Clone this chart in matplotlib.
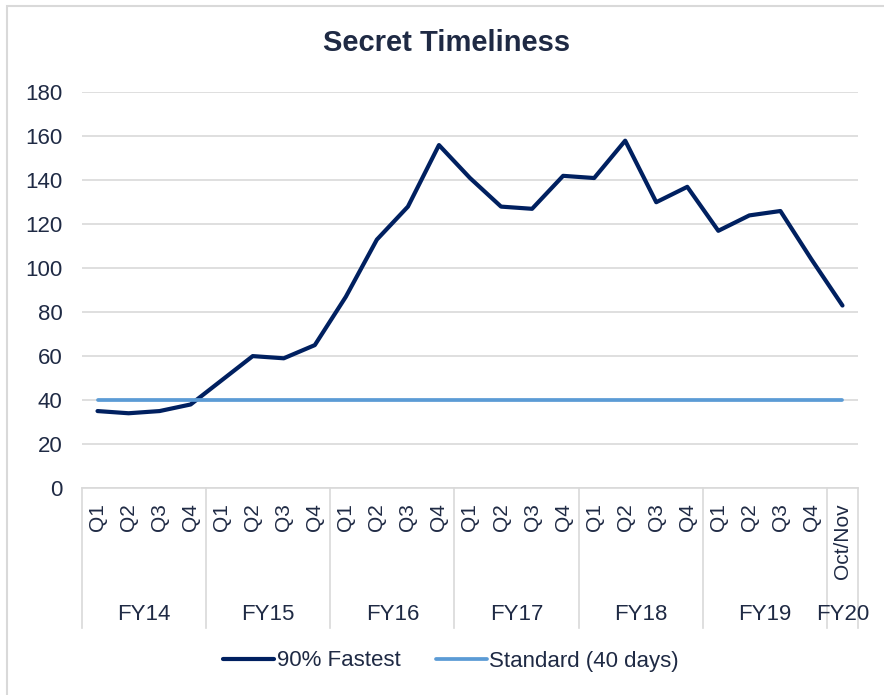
import numpy as np
import matplotlib.pyplot as plt
from matplotlib.patches import Rectangle
import matplotlib.transforms as mtransforms

plt.rcParams['font.family'] = ['Liberation Sans', 'DejaVu Sans']

# data
quarters = ['Q1', 'Q2', 'Q3', 'Q4'] * 6 + ['Oct/Nov']
years = ['FY14', 'FY15', 'FY16', 'FY17', 'FY18', 'FY19', 'FY20']
year_sizes = [4, 4, 4, 4, 4, 4, 1]
fastest_90 = [35, 34, 35, 38,
              49, 60, 59, 65,
              87, 113, 128, 156,
              141, 128, 127, 142,
              141, 158, 130, 137,
              117, 124, 126, 104,
              83]
standard = [40] * 25

text_col = '#1F2A44'
grid_col = '#D9D9D9'

W, H = 884, 695
fig = plt.figure(figsize=(W / 100, H / 100), dpi=100)

# light frame around the chart (goes off the right/bottom edge like the screenshot)
fig.patches.append(Rectangle((7 / W, -0.05), 1.2, 1 - 6 / H + 0.05, transform=fig.transFigure,
                             fill=False, edgecolor='#D9D9D9', linewidth=1.5))

left, right = 82 / W, 858 / W
bottom, top = 1 - 488 / H, 1 - 92.3 / H
ax = fig.add_axes([left, bottom, right - left, top - bottom])

x = np.arange(len(fastest_90))
ax.plot(x, fastest_90, color='#002060', linewidth=3, label='90% Fastest', solid_capstyle='round')
ax.plot(x, standard, color='#5B9BD5', linewidth=2.7, label='Standard (40 days)', solid_capstyle='round')

ax.set_xlim(-0.5, len(x) - 0.5)
ax.set_ylim(0, 180)
ax.set_yticks(range(0, 181, 20))
ax.yaxis.grid(True, color=grid_col, linewidth=1.2)
ax.set_axisbelow(True)
for s in ['top', 'right', 'left']:
    ax.spines[s].set_visible(False)
ax.spines['bottom'].set_color(grid_col)
ax.spines['bottom'].set_linewidth(1.2)

ax.tick_params(axis='y', length=0, pad=14, labelsize=16, labelcolor=text_col)
ax.set_xticks(x)
ax.set_xticklabels(quarters, rotation=90)
ax.tick_params(axis='x', length=0, pad=11, labelsize=15, labelcolor=text_col)

# fiscal-year group separators and labels under the quarter ticks
trans = mtransforms.blended_transform_factory(ax.transData, ax.transAxes)
sep_depth = -(628 - 488) / (488 - 92.3)
label_y = -(615 - 488) / (488 - 92.3)
edges = np.concatenate([[0], np.cumsum(year_sizes)]) - 0.5
for e in edges:
    ax.plot([e, e], [0, sep_depth], transform=trans, color=grid_col, linewidth=1.2, clip_on=False)
for i, yr in enumerate(years):
    c = (edges[i] + edges[i + 1]) / 2
    ax.text(c, label_y, yr, transform=trans, ha='center', va='center', fontsize=16, color=text_col)

fig.text(447 / W, 1 - 43 / H, 'Secret Timeliness', ha='center', va='center',
         fontsize=21, fontweight='bold', color=text_col)

fig.legend(loc='center', bbox_to_anchor=(451 / W, 1 - 661 / H), ncol=2, frameon=False,
           fontsize=16, handlelength=2.3, handletextpad=0.1, columnspacing=1.6,
           labelcolor=text_col)

fig.savefig('out.png', dpi=100)
